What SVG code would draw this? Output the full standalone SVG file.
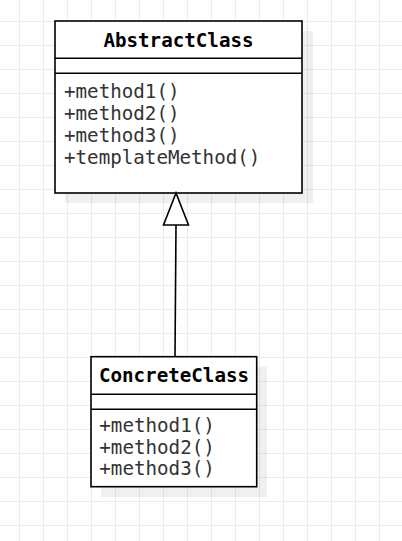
<svg xmlns="http://www.w3.org/2000/svg" width="402" height="541" viewBox="0 0 402 541">
<style>
.box{fill:#fff;stroke:#000;stroke-width:1.6}
.sep{stroke:#000;stroke-width:1.6;fill:none}
.shadow{fill:#000;fill-opacity:0.06}
.title{font-family:"DejaVu Sans Mono","Liberation Mono",monospace;font-size:19.2px;font-weight:bold;fill:#000;text-anchor:middle}
.meth{font-family:"DejaVu Sans Mono","Liberation Mono",monospace;font-size:19.2px;fill:#333}
.conn{stroke:#000;stroke-width:1.6;fill:none}
.head{fill:#fff;stroke:#000;stroke-width:1.6;stroke-linejoin:miter}
</style>
<defs>
<pattern id="grid" x="19" y="21" width="24" height="24" patternUnits="userSpaceOnUse">
<path d="M0.5 0V24M0 0.5H24" stroke="#ebebeb" stroke-width="1" fill="none"/>
</pattern>
</defs>
<rect width="402" height="541" fill="#fff"/>
<rect width="402" height="541" fill="url(#grid)"/>
<g id="AbstractClass">
<rect class="shadow" x="65" y="31" width="248" height="172"/>
<rect class="box" x="55" y="21" width="247" height="172"/>
<line class="sep" x1="55" y1="58.3" x2="302" y2="58.3"/>
<line class="sep" x1="55" y1="73.3" x2="302" y2="73.3"/>
<text class="title" x="178.5" y="47">AbstractClass</text>
<text class="meth" x="64" y="97.5">+method1()</text>
<text class="meth" x="64" y="119.8">+method2()</text>
<text class="meth" x="64" y="142.1">+method3()</text>
<text class="meth" x="64" y="164.4">+templateMethod()</text>
</g>
<g id="ConcreteClass">
<rect class="shadow" x="101" y="366.5" width="166" height="130.5"/>
<rect class="box" x="91" y="356.7" width="165.7" height="130"/>
<line class="sep" x1="91" y1="394.3" x2="256.7" y2="394.3"/>
<line class="sep" x1="91" y1="409.3" x2="256.7" y2="409.3"/>
<text class="title" x="174" y="382">ConcreteClass</text>
<text class="meth" x="99.3" y="432">+method1()</text>
<text class="meth" x="99.3" y="453.5">+method2()</text>
<text class="meth" x="99.3" y="475">+method3()</text>
</g>
<g id="connectors">
<line class="conn" x1="176" y1="225" x2="175" y2="356.7"/>
<polygon class="head" points="176,193 163.5,225 188.5,225"/>
</g>
</svg>
